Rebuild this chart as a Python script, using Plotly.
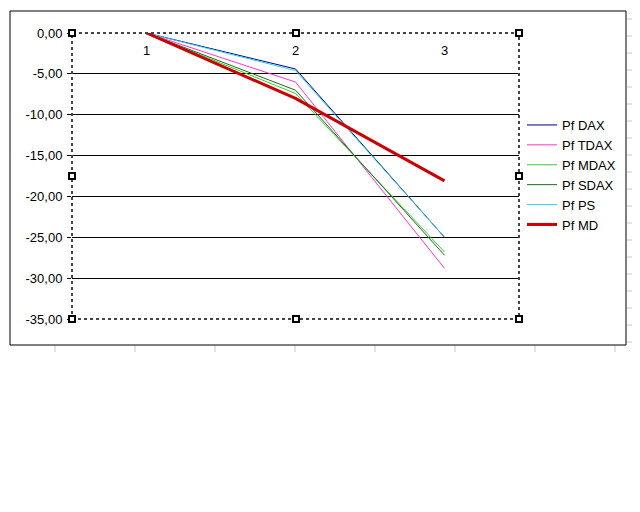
import plotly.graph_objects as go

# categories and series values
categories = [1, 2, 3]
pf_dax = [0.0, -4.4, -25.0]
pf_tdax = [0.0, -6.0, -28.8]
pf_mdax = [0.0, -7.4, -26.8]
pf_sdax = [0.0, -7.0, -27.2]
pf_ps = [0.0, -4.6, -25.0]
pf_md = [0.0, -8.0, -18.1]

y_ticks = [0, -5, -10, -15, -20, -25, -30, -35]
y_tick_text = ["0,00", "-5,00", "-10,00", "-15,00", "-20,00", "-25,00", "-30,00", "-35,00"]

series = [
    ("Pf DAX", pf_dax, "#000080", 1),
    ("Pf TDAX", pf_tdax, "#ff33cc", 1),
    ("Pf MDAX", pf_mdax, "#33cc33", 1),
    ("Pf SDAX", pf_sdax, "#1f6b1f", 1),
    ("Pf PS", pf_ps, "#33ccee", 1),
    ("Pf MD", pf_md, "#cc0000", 3),
]

# the page body adds an 8px margin, so work in screen pixels minus 8
OFF = 8
L, R, T, B = 72 - OFF, 519 - OFF, 33 - OFF, 319 - OFF
W, H = 640 - OFF, 512 - OFF


def px(x):
    return (x - OFF - L) / (R - L)


def py(y):
    return (B - (y - OFF)) / (B - T)


fig = go.Figure()
for name, vals, color, w in series:
    fig.add_trace(go.Scatter(x=categories, y=vals, mode="lines", name=name,
                             line=dict(color=color, width=w)))

shapes = []
# spreadsheet cell lines around the chart object
grid = "#c8c8c8"
for cx in [55, 135, 215, 295, 375, 455, 535, 615]:
    shapes.append(dict(type="line", xref="paper", yref="paper", x0=px(cx), x1=px(cx),
                       y0=py(345), y1=py(352), line=dict(color=grid, width=1), layer="below"))
for ry in range(19, 352, 17):
    shapes.append(dict(type="line", xref="paper", yref="paper", x0=px(627), x1=px(640),
                       y0=py(ry), y1=py(ry), line=dict(color=grid, width=1), layer="below"))

# chart area border
shapes.append(dict(type="rect", xref="paper", yref="paper", x0=px(10), x1=px(626),
                   y0=py(345), y1=py(11), line=dict(color="black", width=1)))
# plot area selection border
shapes.append(dict(type="rect", xref="paper", yref="paper", x0=0, x1=1, y0=0, y1=1,
                   line=dict(color="#444444", width=2, dash="dot")))
# selection handles
for hx, hy in [(72, 33), (296, 33), (519, 33), (72, 176), (519, 176), (72, 319), (296, 319), (519, 319)]:
    shapes.append(dict(type="rect", xref="paper", yref="paper",
                       x0=px(hx - 3), x1=px(hx + 3), y0=py(hy + 3), y1=py(hy - 3),
                       fillcolor="white", line=dict(color="black", width=2)))

fig.update_layout(
    width=W, height=H,
    margin=dict(l=L, r=W - R, t=T, b=H - B),
    paper_bgcolor="white", plot_bgcolor="white",
    font=dict(family="Liberation Sans, Arial", size=13, color="black"),
    showlegend=True,
    legend=dict(x=px(522), y=py(110), xanchor="left", yanchor="top",
                font=dict(size=13), bgcolor="rgba(0,0,0,0)", tracegroupgap=0),
    xaxis=dict(range=[0.5, 3.5], tickvals=categories, ticktext=[str(c) for c in categories],
               anchor="free", position=1, side="bottom", showgrid=False, zeroline=False,
               showline=False, ticks="", ticklabelstandoff=8),
    yaxis=dict(range=[-35, 0], tickvals=y_ticks, ticktext=y_tick_text, showgrid=True,
               gridcolor="black", gridwidth=1, zeroline=False, showline=False,
               ticks="outside", ticklen=4, tickcolor="black", ticklabelstandoff=2),
    shapes=shapes,
)

fig.write_html("out.html")
